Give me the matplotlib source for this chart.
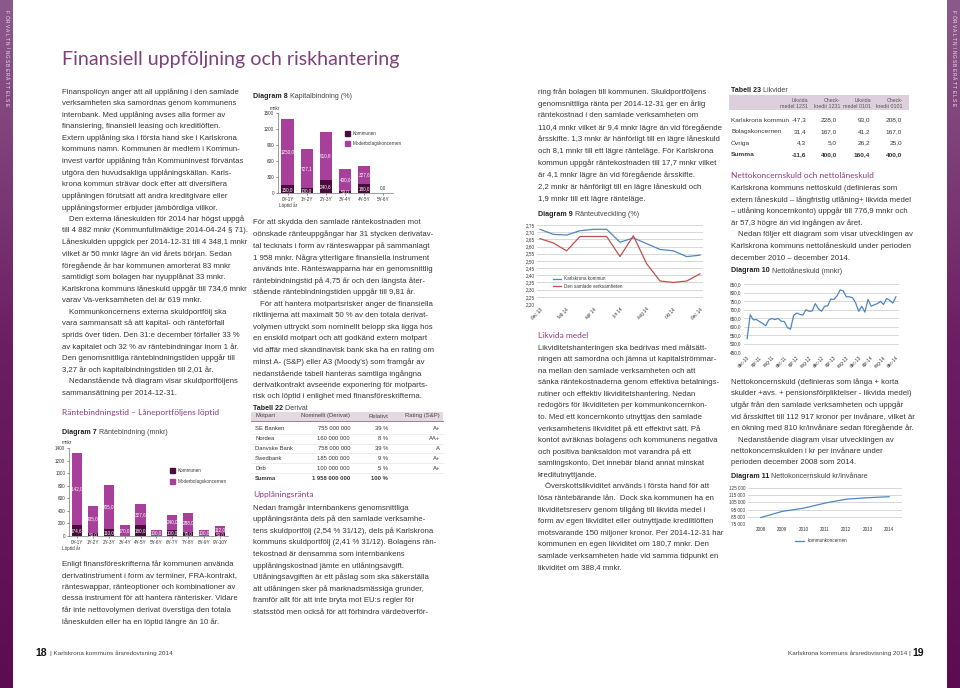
import matplotlib
matplotlib.use('Agg')
import matplotlib.pyplot as plt
import numpy as np
from matplotlib.patches import Rectangle
from matplotlib.lines import Line2D
from matplotlib.colors import LinearSegmentedColormap

# ---------------- data ----------------
d7_cats = ['0Y-1Y', '1Y-2Y', '2Y-3Y', '3Y-4Y', '4Y-5Y', '5Y-6Y', '6Y-7Y', '7Y-8Y', '8Y-9Y', '9Y-10Y']
d7_kommun = [174.6, 50.0, 110.0, 0.0, 180.0, 0.0, 100.0, 70.0, 0.0, 50.0]
d7_moder = [1142.0, 435.0, 705.0, 170.0, 327.6, 100.0, 240.0, 288.0, 100.0, 112.0]

d8_cats = ['0Y-1Y', '1Y-2Y', '2Y-3Y', '3Y-4Y', '4Y-5Y', '5Y-6Y']
d8_kommun = [150.0, 100.0, 240.6, 50.0, 180.0, 0.0]
d8_moder = [1250.0, 727.1, 910.8, 400.0, 327.6, 0.0]

d9_months = ['dec 13', 'jan 14', 'feb 14', 'mar 14', 'apr 14', 'maj 14', 'jun 14',
             'jul 14', 'aug 14', 'sep 14', 'okt 14', 'nov 14', 'dec 14']
d9_kommun = [2.72, 2.685, 2.68, 2.71, 2.72, 2.72, 2.63, 2.66, 2.62, 2.58, 2.57, 2.53, 2.54]
d9_samlad = [2.655, 2.625, 2.57, 2.67, 2.67, 2.67, 2.53, 2.675, 2.48, 2.36, 2.35, 2.36, 2.41]

d10_ticklabels = ['dec-10', 'apr-11', 'aug-11', 'dec-11', 'apr-12', 'aug-12', 'dec-12',
                  'apr-13', 'aug-13', 'dec-13', 'apr-14', 'aug-14', 'dec-14']
d10_values = [530, 670, 640, 642, 630, 620, 605, 640, 648, 642, 648, 632, 630, 595, 585,
              665, 680, 672, 668, 700, 690, 692, 735, 705, 690, 720, 722, 762, 760, 780,
              815, 810, 775, 775, 770, 740, 690, 720, 685, 760, 720, 728, 735, 748, 730,
              765, 755, 738, 775]

d11_years = [2008, 2009, 2010, 2011, 2012, 2013, 2014]
d11_values = [84000, 92500, 97000, 104000, 109500, 111500, 112917]

t22_header = ['Motpart', 'Nominellt (Derivat)', 'Relativt', 'Rating (S&P)']
t22_motpart = ['SE Banken', 'Nordea', 'Danvske Bank', 'Swedbank', 'Dnb', 'Summa']
t22_nominellt = ['755 000 000', '160 000 000', '758 000 000', '185 000 000', '100 000 000', '1 958 000 000']
t22_relativt = ['39 %', '8 %', '39 %', '9 %', '5 %', '100 %']
t22_rating = ['A+', 'AA+', 'A', 'A+', 'A+', '']

t23_header1 = ['Likvida', 'Check-', 'Likvida', 'Check-']
t23_header2 = ['medel 1231', 'kredit 1231', 'medel 0101', 'kredit 0101']
t23_rows = ['Karlskrona kommun', 'Bolagskoncernen', 'Övriga', 'Summa']
t23_values = [['-47,3', '228,0', '93,0', '208,0'],
              ['31,4', '167,0', '41,2', '167,0'],
              ['4,3', '5,0', '26,2', '25,0'],
              ['-11,6', '400,0', '160,4', '400,0']]

# ---------------- setup ----------------
W, H = 960, 688
fig = plt.figure(figsize=(9.6, 6.88), dpi=100)
fig.patch.set_facecolor('white')
R = fig.canvas.get_renderer()

FONT = 'Liberation Sans'
TXT = '#363636'
PURPLE = '#8a3c84'
DARK = '#4a0c3e'
MAG = '#a8409b'
BLUE = '#4f86c0'
RED = '#c0504d'
TICK = 3.3


def fx(x):
    return x / W


def fy(y):
    return 1 - y / H


def T(x, y, s, size, **kw):
    kw.setdefault('family', FONT)
    kw.setdefault('color', TXT)
    kw.setdefault('va', 'center')
    return fig.text(fx(x), fy(y), s, fontsize=size, **kw)


def width_px(s, size, weight='normal', family=FONT):
    t = fig.text(0, 0, s, fontsize=size, family=family, weight=weight)
    w = t.get_window_extent(R).width
    t.remove()
    return w


def fit_size(s, target, weight='normal', family=FONT):
    return 10 * target / width_px(s, 10, weight, family)


HFAM = ['Lato', FONT]
BODY = fit_size('Finanspolicyn anger att all upplåning i den samlade', 176)
HEAD = fit_size('Räntebindningstid – Låneportföljens löptid', 158, family=HFAM)
DLAB = 10 * 106 / (width_px('Diagram 7', 10, 'bold') + width_px(' Räntebindning (mnkr)', 10))


def para(x, y0, dy, lines, size=BODY):
    for i, s in enumerate(lines):
        if s.startswith('\t'):
            T(x + 7, y0 + i * dy, s[1:], size)
        else:
            T(x, y0 + i * dy, s, size)


def dlabel(x, y, bold, rest, size=DLAB):
    t = T(x, y, bold, size, weight='bold', color='#222222')
    wb = t.get_window_extent(R).width
    T(x + wb, y, ' ' + rest, size, color='#444444')


def heading(x, y, s):
    T(x, y, s, HEAD, color=PURPLE, family=HFAM, weight='normal')


def add_ax(x0, y0, x1, y1):
    return fig.add_axes([fx(x0), fy(y1), (x1 - x0) / W, (y1 - y0) / H])


# ---------------- side strips ----------------
cmap = LinearSegmentedColormap.from_list('s', ['#8c5a8a', '#6c1e62', '#5c0c52'])
for x0 in (0, 947):
    axs = fig.add_axes([fx(x0), 0, 13 / W, 1])
    axs.imshow(np.linspace(0, 1, 256)[:, None], aspect='auto', cmap=cmap,
               extent=[0, 1, 0, 1], origin='upper')
    axs.axis('off')
    for i, ch in enumerate('FÖRVALTNINGSBERÄTTELSE'):
        T(x0 + 6.5, 12 + i * 4.4, ch, 3.5, rotation=270, ha='center', color='#f0e4f0')

# ---------------- title ----------------
TS = fit_size('Finansiell uppföljning och riskhantering', 338, family=HFAM)
T(62, 60, 'Finansiell uppföljning och riskhantering', TS, color='#7e407a',
  family=HFAM, weight='normal')

# ---------------- column 1 ----------------
para(62, 92, 11.58, [
    'Finanspolicyn anger att all upplåning i den samlade',
    'verksamheten ska samordnas genom kommunens',
    'internbank. Med upplåning avses alla former av',
    'finansiering, finansiell leasing och kreditlöften.',
    'Extern upplåning ska i första hand ske i Karlskrona',
    'kommuns namn. Kommunen är medlem i Kommun-',
    'invest varför upplåning från Kommuninvest förväntas',
    'utgöra den huvudsakliga upplåningskällan. Karls-',
    'krona kommun strävar dock efter att diversifiera',
    'upplåningen förutsatt att andra kreditgivare eller',
    'upplåningsformer erbjuder jämbördiga villkor.',
    '\tDen externa låneskulden för 2014 har högst uppgå',
    'till 4 882 mnkr (Kommunfullmäktige 2014-04-24 § 71).',
    'Låneskulden uppgick per 2014-12-31 till 4 348,1 mnkr',
    'vilket är 50 mnkr lägre än vid årets början. Sedan',
    'föregående år har kommunen amorterat 83 mnkr',
    'samtidigt som bolagen har nyupplånat 33 mnkr.',
    'Karlskrona kommuns låneskuld uppgår till 734,6 mnkr',
    'varav Va-verksamheten del är 619 mnkr.',
    '\tKommunkoncernens externa skuldportfölj ska',
    'vara sammansatt så att kapital- och ränteförfall',
    'sprids över tiden. Den 31:e december förfaller 33 %',
    'av kapitalet och 32 % av räntebindningar inom 1 år.',
    'Den genomsnittliga räntebindningstiden uppgår till',
    '3,27 år och kapitalbindningstiden till 2,01 år.',
    '\tNedanstående två diagram visar skuldportföljens',
    'sammansättning per 2014-12-31.',
])
heading(62, 413, 'Räntebindningstid – Låneportföljens löptid')
dlabel(62, 433, 'Diagram 7', 'Räntebindning (mnkr)')
para(62, 564, 11.6, [
    'Enligt finansföreskrifterna får kommunen använda',
    'derivatinstrument i form av terminer, FRA-kontrakt,',
    'ränteswappar, ränteoptioner och kombinationer av',
    'dessa instrument för att hantera ränterisker. Vidare',
    'får inte nettovolymen derivat överstiga den totala',
    'låneskulden eller ha en löptid längre än 10 år.',
])


def fmt(v):
    return f'{v:.1f}'.replace('.', ',')


def bar_chart(ax, cats, kom, mod, ymax, ystep):
    x = np.arange(len(cats))
    ax.bar(x, kom, width=0.64, color=DARK)
    ax.bar(x, mod, bottom=kom, width=0.64, color=MAG)
    for xi, k, m in zip(x, kom, mod):
        if k > 0:
            ax.text(xi, k / 2, fmt(k), ha='center', va='center', color='white',
                    fontsize=TICK, family=FONT)
        if m > 0:
            ax.text(xi, k + m / 2, fmt(m), ha='center', va='center', color='white',
                    fontsize=TICK, family=FONT)
        if k == 0 and m == 0:
            ax.text(xi, ymax * 0.04, fmt(0), ha='center', va='bottom', color='#333333',
                    fontsize=TICK, family=FONT)
    ax.set_xlim(-0.5, len(cats) - 0.5)
    ax.set_ylim(0, ymax)
    ax.set_yticks(np.arange(0, ymax + 1, ystep))
    ax.set_yticklabels([str(int(v)) for v in np.arange(0, ymax + 1, ystep)])
    ax.set_xticks(x)
    ax.set_xticklabels(cats)
    for s in ('top', 'right'):
        ax.spines[s].set_visible(False)
    for s in ('left', 'bottom'):
        ax.spines[s].set_color('#777777')
        ax.spines[s].set_linewidth(0.5)
    ax.tick_params(labelsize=TICK, length=1.5, width=0.4, pad=1.2, colors='#333333')
    for lab in ax.get_xticklabels() + ax.get_yticklabels():
        lab.set_family(FONT)
    ax.set_facecolor('none')


ax7 = add_ax(69, 448, 228, 536)
bar_chart(ax7, d7_cats, d7_kommun, d7_moder, 1400, 200)
T(62, 443, 'mnkr', TICK)
T(62, 548, 'Löptid år', TICK)
for i, (lab, col) in enumerate([('Kommunen', DARK), ('Moderbolagskoncernen', MAG)]):
    fig.add_artist(Rectangle((fx(170), fy(473 + i * 11)), 5 / W, 5 / H, color=col))
    T(178, 470.5 + i * 11, lab, TICK)

# ---------------- column 2 ----------------
dlabel(253, 97, 'Diagram 8', 'Kapitalbindning (%)')
ax8 = add_ax(278, 113.3, 393, 193.3)
bar_chart(ax8, d8_cats, d8_kommun, d8_moder, 1500, 300)
T(270, 109, 'mnkr', TICK)
T(279, 205, 'Löptid år', TICK)
for i, (lab, col) in enumerate([('Kommunen', DARK), ('Moderbolagskoncernen', MAG)]):
    fig.add_artist(Rectangle((fx(345), fy(136 + i * 10)), 5 / W, 5 / H, color=col))
    T(353, 133.5 + i * 10, lab, TICK)

para(253, 223, 11.6, [
    'För att skydda den samlade räntekostnaden mot',
    'oönskade ränteuppgångar har 31 stycken derivatav-',
    'tal tecknats i form av ränteswappar på sammanlagt',
    '1 958 mnkr. Några ytterligare finansiella instrument',
    'används inte. Ränteswapparna har en genomsnittlig',
    'räntebindningstid på 4,75 år och den längsta åter-',
    'stående räntebindningstiden uppgår till 9,81 år.',
    '\tFör att hantera motpartsrisker anger de finansiella',
    'riktlinjerna att maximalt 50 % av den totala derivat-',
    'volymen uttryckt som nominellt belopp ska ligga hos',
    'en enskild motpart och att godkänd extern motpart',
    'vid affär med skandinavisk bank ska ha en rating om',
    "minst A- (S&P) eller A3 (Moody's) som framgår av",
    'nedanstående tabell hanteras samtliga ingångna',
    'derivatkontrakt avseende exponering för motparts-',
    'risk och löptid i enlighet med finansföreskrifterna.',
])

dlabel(253, 408, 'Tabell 22', 'Derivat')
T22 = fit_size('Danvske Bank', 38)
fig.add_artist(Rectangle((fx(251), fy(421)), (443 - 251) / W, 9 / H, color='#e4d9e3', lw=0))
fig.add_artist(Line2D([fx(251), fx(443)], [fy(421), fy(421)], color='#8a6a88', lw=0.6))
T(255, 416, t22_header[0], T22, color='#444444')
T(350, 416, t22_header[1], T22, color='#444444', ha='right')
T(388, 416, t22_header[2], T22, color='#444444', ha='right')
T(440, 416, t22_header[3], T22, color='#444444', ha='right')
row_y22 = [429, 439, 448.5, 458, 468, 478]
for i, yy in enumerate(row_y22):
    w = 'bold' if i == len(row_y22) - 1 else 'normal'
    T(255, yy, t22_motpart[i], T22, weight=w)
    T(350, yy, t22_nominellt[i], T22, ha='right', weight=w)
    T(388, yy, t22_relativt[i], T22, ha='right', weight=w)
    T(440, yy, t22_rating[i], T22, ha='right', weight=w)
    if i < len(row_y22) - 1:
        ly = (yy + row_y22[i + 1]) / 2
        fig.add_artist(Line2D([fx(251), fx(443)], [fy(ly), fy(ly)], color='#e2e2e2', lw=0.4))

heading(253, 495, 'Upplåningsränta')
para(253, 508, 11.6, [
    'Nedan framgår internbankens genomsnittliga',
    'upplåningsränta dels på den samlade verksamhe-',
    'tens skuldportfölj (2,54 % 31/12), dels på Karlskrona',
    'kommuns skuldportfölj (2,41 % 31/12). Bolagens rän-',
    'tekostnad är densamma som internbankens',
    'upplåningskostnad jämte en utlåningsavgift.',
    'Utlåningsavgiften är ett påslag som ska säkerställa',
    'att utlåningen sker på marknadsmässiga grunder,',
    'framför allt för att inte bryta mot EU:s regler för',
    'statsstöd men också för att förhindra värdeöverför-',
])

# ---------------- column 3 ----------------
para(538, 92, 11.9, [
    'ring från bolagen till kommunen. Skuldportföljens',
    'genomsnittliga ränta per 2014-12-31 ger en årlig',
    'räntekostnad i den samlade verksamheten om',
    '110,4 mnkr vilket är 9,4 mnkr lägre än vid föregående',
    'årsskifte. 1,3 mnkr är hänförligt till en lägre låneskuld',
    'och 8,1 mnkr till ett lägre ränteläge. För Karlskrona',
    'kommun uppgår räntekostnaden till 17,7 mnkr vilket',
    'är 4,1 mnkr lägre än vid föregående årsskifte.',
    '2,2 mnkr är hänförligt till en lägre låneskuld och',
    '1,9 mnkr till ett lägre ränteläge.',
])
dlabel(538, 214, 'Diagram 9', 'Ränteutveckling (%)')


def line_axes(ax, ymin, ymax, ystep, fmt_y):
    ticks = np.arange(ymin, ymax + ystep / 2, ystep)
    ax.set_ylim(ymin, ymax)
    ax.set_yticks(ticks)
    ax.set_yticklabels([fmt_y(v) for v in ticks])
    ax.grid(axis='y', color='#c9c9c9', lw=0.5)
    ax.set_axisbelow(True)
    for s in ax.spines.values():
        s.set_visible(False)
    ax.tick_params(labelsize=TICK, length=0, pad=2, colors='#333333')
    for lab in ax.get_xticklabels() + ax.get_yticklabels():
        lab.set_family(FONT)
    ax.set_facecolor('none')


ax9 = add_ax(537.3, 225, 702.7, 304)
xm = np.arange(len(d9_months))
ax9.plot(xm, d9_kommun, color=BLUE, lw=0.9)
ax9.plot(xm, d9_samlad, color=RED, lw=0.9)
ax9.set_xlim(-0.2, len(d9_months) - 0.8)
ax9.set_xticks(xm[::2])
ax9.set_xticklabels(d9_months[::2], rotation=45, ha='right', rotation_mode='anchor')
line_axes(ax9, 2.20, 2.75, 0.05, lambda v: f'{v:.2f}'.replace('.', ','))
for i, (lab, col) in enumerate([('Karlskrona kommun', BLUE), ('Den samlade verksamheten', RED)]):
    yy = 279 + i * 7
    fig.add_artist(Line2D([fx(553), fx(561)], [fy(yy), fy(yy)], color=col, lw=0.9))
    T(564, yy, lab, TICK)

heading(538, 335, 'Likvida medel')
para(538, 348, 11.58, [
    'Likviditetshanteringen ska bedrivas med målsätt-',
    'ningen att samordna och jämna ut kapitalströmmar-',
    'na mellan den samlade verksamheten och att',
    'sänka räntekostnaderna genom effektiva betalnings-',
    'rutiner och effektiv likviditetshantering. Nedan',
    'redogörs för likviditeten per kommunkoncernkon-',
    'to. Med ett koncernkonto utnyttjas den samlade',
    'verksamhetens likviditet på ett effektivt sätt. På',
    'kontot avräknas bolagens och kommunens negativa',
    'och positiva banksaldon mot varandra på ett',
    'samlingskonto. Det innebär bland annat minskat',
    'kreditutnyttjande.',
    '\tÖverskottslikviditet används i första hand för att',
    'lösa räntebärande lån.  Dock ska kommunen ha en',
    'likviditetsreserv genom tillgång till likvida medel i',
    'form av egen likviditet eller outnyttjade krediltlöften',
    'motsvarande 150 miljoner kronor. Per 2014-12-31 har',
    'kommunen en egen likviditet om 180,7 mnkr. Den',
    'samlade verksamheten hade vid samma tidpunkt en',
    'likviditet om 388,4 mnkr.',
])

# ---------------- column 4 ----------------
dlabel(731, 90, 'Tabell 23', 'Likvider')
T23 = fit_size('Karlskrona kommun', 58)
T23H = fit_size('medel 1231', 27.5)
fig.add_artist(Rectangle((fx(729), fy(110)), (909 - 729) / W, 15 / H, color='#ddd0dc', lw=0))
hx = [808, 840, 871, 903]
vx = [806, 837, 870, 902]
for j in range(4):
    T(hx[j], 100.5, t23_header1[j], T23H, ha='right', color='#555555')
    T(hx[j], 106.5, t23_header2[j], T23H, ha='right', color='#555555')
for i, (name, yy) in enumerate(zip(t23_rows, [120, 131.5, 143, 154.5])):
    w = 'bold' if name == 'Summa' else 'normal'
    T(731, yy, name, T23, weight=w)
    for j in range(4):
        T(vx[j], yy, t23_values[i][j], T23, ha='right', weight=w)

heading(731, 176, 'Nettokoncernskuld och nettolåneskuld')
para(731, 188, 11.67, [
    'Karlskrona kommuns nettoskuld (definieras som',
    'extern låneskuld – långfristig utlåning+ likvida medel',
    '– utlåning koncernkonto) uppgår till 776,9 mnkr och',
    'är 57,3 högre än vid ingången av året.',
    '\tNedan följer ett diagram som visar utvecklingen av',
    'Karlskrona kommuns nettolåneskuld under perioden',
    'december 2010 – december 2014.',
])
dlabel(731, 271, 'Diagram 10', 'Nettolåneskuld (mnkr)')
ax10 = add_ax(744, 284, 899, 352.3)
x10 = np.arange(len(d10_values))
ax10.plot(x10, d10_values, color=BLUE, lw=0.9)
ax10.set_xlim(-1, len(d10_values))
ax10.set_xticks(x10[::4])
ax10.set_xticklabels(d10_ticklabels, rotation=45, ha='right', rotation_mode='anchor')
line_axes(ax10, 450, 850, 50, lambda v: f'{v:.1f}'.replace('.', ','))

para(731, 382, 11.57, [
    'Nettokoncernskuld (definieras som långa + korta',
    'skulder +avs. + pensionsförpliktelser - likvida medel)',
    'utgår från den samlade verksamheten och uppgår',
    'vid årsskiftet till 112 917 kronor per invånare, vilket är',
    'en ökning med 810 kr/invånare sedan föregående år.',
    '\tNedanstående diagram visar utvecklingen av',
    'nettokoncernskulden i kr per invånare under',
    'perioden december 2008 som 2014.',
])
dlabel(731, 477, 'Diagram 11', 'Nettokoncernskuld kr/invånare')
ax11 = add_ax(748, 488, 902, 524)
ax11.plot(d11_years, d11_values, color=BLUE, lw=0.9)
ax11.set_xlim(2007.4, 2014.6)
ax11.set_xticks(d11_years)
ax11.set_xticklabels([str(y) for y in d11_years])
line_axes(ax11, 75000, 125000, 10000, lambda v: f'{int(v):,}'.replace(',', ' '))
fig.add_artist(Line2D([fx(795), fx(804)], [fy(541), fy(541)], color=BLUE, lw=0.9))
T(808, 541, 'kommunkoncernen', TICK)

# ---------------- footers ----------------
T(35, 653, '18', 7.5, weight='bold', color='#111111')
T(50, 653, '| Karlskrona kommuns årsredovisning 2014', 4.6, color='#444444')
T(911, 653, 'Karlskrona kommuns årsredovisning 2014 |', 4.6, color='#444444', ha='right')
T(912, 653, '19', 7.5, weight='bold', color='#111111')

fig.savefig('out.png', dpi=100)
